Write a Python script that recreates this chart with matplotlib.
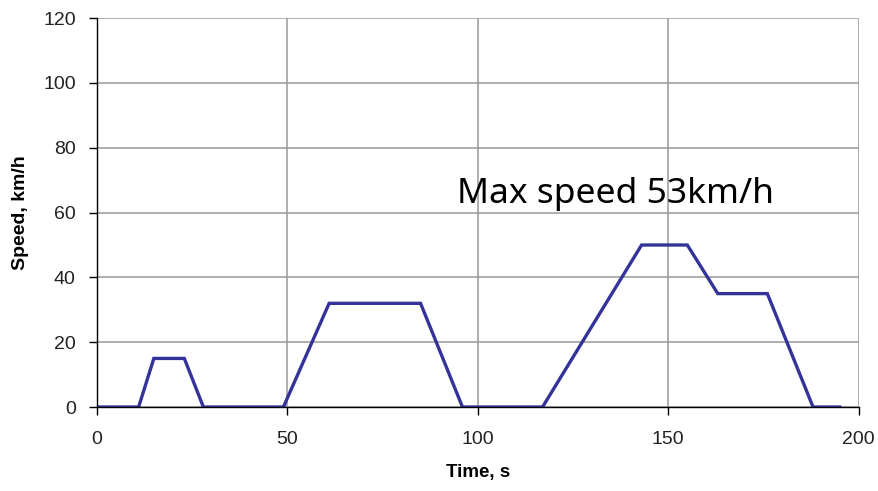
import matplotlib
matplotlib.use("Agg")
import matplotlib.pyplot as plt

# ECE-15 urban cycle (time in s, speed in km/h)
time_s = [0, 11, 15, 23, 28, 49, 61, 85, 96, 117, 143, 155, 163, 176, 188, 195]
speed_kmh = [0, 0, 15, 15, 0, 0, 32, 32, 0, 0, 50, 50, 35, 35, 0, 0]

x_ticks = [0, 50, 100, 150, 200]
y_ticks = [0, 20, 40, 60, 80, 100, 120]
note = "Max speed 53km/h"

plt.rcParams['font.family'] = ['Liberation Sans', 'DejaVu Sans']

fig = plt.figure(figsize=(8.79, 4.91), dpi=100)
ax = fig.add_axes([0.110, 0.171, 0.867, 0.792])

ax.plot(time_s, speed_kmh, color='#333399', linewidth=2.4, solid_joinstyle='miter')

ax.set_xlim(0, 200)
ax.set_ylim(0, 120)
ax.set_xticks(x_ticks)
ax.set_yticks(y_ticks)
ax.grid(True, color='#999999', linewidth=1.1)
ax.set_axisbelow(True)

for side in ['top', 'right']:
    ax.spines[side].set_visible(False)
for side in ['left', 'bottom']:
    ax.spines[side].set_color('black')
    ax.spines[side].set_linewidth(1.0)

ax.tick_params(axis='both', direction='out', length=6, width=1, colors='black',
               labelsize=14, labelcolor='#222222')
ax.tick_params(axis='x', pad=11)
ax.tick_params(axis='y', pad=9)

ax.set_xlabel('Time, s', fontsize=13.5, fontweight='bold', labelpad=12)
ax.set_ylabel('Speed, km/h', fontsize=14, fontweight='bold', labelpad=10)

ax.text(94.5, 65.8, note, fontsize=25.5, family=['Noto Sans', 'DejaVu Sans'],
        color='black', ha='left', va='center')

fig.savefig('out.png', dpi=100, facecolor='white')
